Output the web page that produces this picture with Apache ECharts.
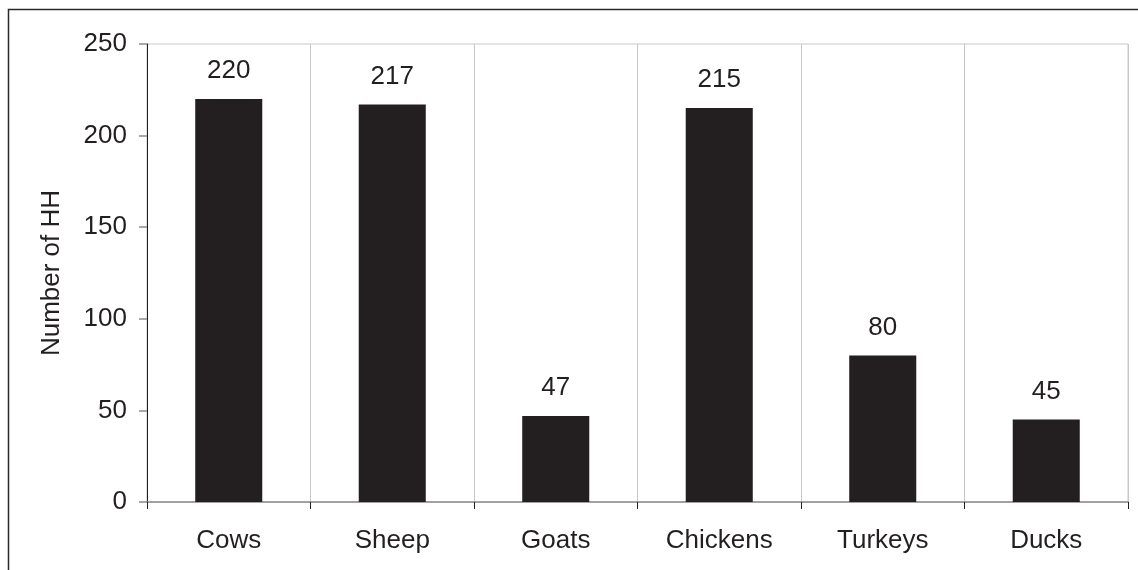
<!DOCTYPE html>
<html>
<head>
<meta charset="utf-8">
<script src="https://cdn.jsdelivr.net/npm/echarts@6/dist/echarts.min.js"></script>
<style>
  html, body { margin: 0; padding: 0; background: #fff; }
  #chart { width: 1138px; height: 570px; }
</style>
</head>
<body>
<div id="chart"></div>
<script>
// Households keeping each type of livestock
const categories = ['Cows', 'Sheep', 'Goats', 'Chickens', 'Turkeys', 'Ducks'];
const households = [220, 217, 47, 215, 80, 45];
const yTicks = [0, 50, 100, 150, 200, 250];

const ink = '#231f20';
const font = '"Liberation Sans", Arial, sans-serif';
const textSize = 26;

const chart = echarts.init(document.getElementById('chart'), null, { renderer: 'canvas' });
chart.setOption({
  animation: false,
  backgroundColor: '#ffffff',
  textStyle: { fontFamily: font, color: ink },
  graphic: [{
    type: 'rect',
    shape: { x: 8.5, y: 9.5, width: 1200, height: 600 },
    style: { fill: 'none', stroke: '#2a2a2a', lineWidth: 1.5 },
    silent: true
  }],
  grid: {
    left: 147, right: 10, top: 44, bottom: 68,
    show: true, borderColor: '#c8c8c8', borderWidth: 1
  },
  xAxis: {
    type: 'category',
    data: categories,
    axisLine: { lineStyle: { color: '#8c8c8c', width: 1.5 } },
    axisTick: { show: true, length: 7, lineStyle: { color: ink, width: 1 } },
    axisLabel: { fontSize: textSize, color: ink, fontFamily: font, margin: 26 },
    splitLine: { show: true, lineStyle: { color: '#c8c8c8', width: 1 } }
  },
  yAxis: {
    type: 'value',
    min: yTicks[0],
    max: yTicks[yTicks.length - 1],
    interval: yTicks[1] - yTicks[0],
    name: 'Number of HH',
    nameLocation: 'middle',
    nameGap: 82,
    nameTextStyle: { fontSize: textSize, color: ink, fontFamily: font },
    axisLine: { show: true, lineStyle: { color: ink, width: 1 } },
    axisTick: { show: true, length: 8, lineStyle: { color: '#8c8c8c', width: 1.5 } },
    axisLabel: { fontSize: textSize, color: ink, fontFamily: font, margin: 20 },
    splitLine: { show: false }
  },
  series: [{
    type: 'bar',
    data: households,
    barWidth: '41%',
    itemStyle: { color: ink },
    label: {
      show: true,
      position: 'top',
      distance: 15,
      fontSize: textSize,
      color: ink,
      fontFamily: font
    }
  }]
});
</script>
</body>
</html>
